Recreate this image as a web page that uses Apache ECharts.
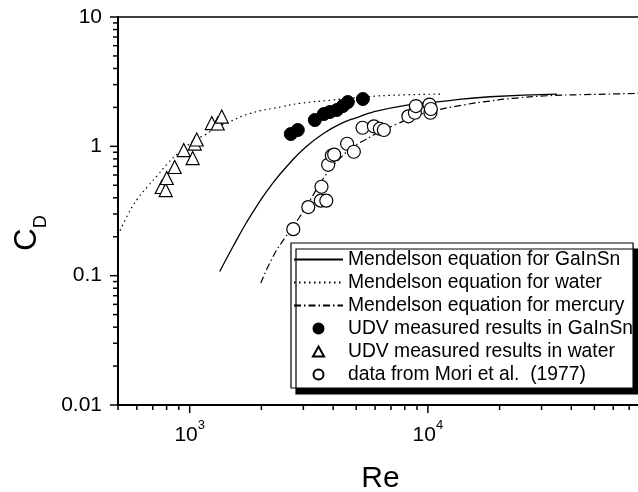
<!DOCTYPE html>
<html><head><meta charset="utf-8">
<script src="https://cdn.jsdelivr.net/npm/echarts@6/dist/echarts.min.js"></script>
<style>html,body{margin:0;padding:0;background:#fff}#c{width:638px;height:492px}</style>
</head><body><div id="c"></div>
<script>
// ---- data ----
const mendelsonGaInSnRe = [1337, 1516, 1736, 1912, 2233, 2632, 3072, 3622, 4268, 5031, 5873, 8164, 11230, 18220, 34830];
const mendelsonGaInSnCd = [0.1076, 0.1665, 0.2599, 0.3454, 0.5203, 0.7427, 0.9876, 1.245, 1.487, 1.670, 1.842, 2.086, 2.220, 2.418, 2.537];

const mendelsonWaterRe = [500, 549, 605, 666, 734, 808, 891, 1050, 1156, 1311, 1430, 1787, 2459, 2899, 3990, 5542, 7627, 11560];
const mendelsonWaterCd = [0.206, 0.294, 0.395, 0.489, 0.600, 0.736, 0.880, 1.119, 1.223, 1.418, 1.514, 1.793, 2.031, 2.150, 2.280, 2.418, 2.493, 2.537];

const mendelsonHgRe = [1988, 2232, 2507, 2899, 3193, 3764, 4268, 4841, 5436, 6285, 7337, 8650, 10195, 14030, 18220, 22760, 31620, 43520, 80000];
const mendelsonHgCd = [0.0877, 0.1393, 0.1954, 0.2856, 0.381, 0.6163, 0.8049, 0.9876, 1.119, 1.297, 1.474, 1.685, 1.852, 2.086, 2.240, 2.350, 2.462, 2.506, 2.57];

const udvGaInSnRe = [2657, 2843, 3352, 3656, 3873, 4146, 4395, 4612, 5333];
const udvGaInSnCd = [1.245, 1.337, 1.597, 1.777, 1.842, 1.909, 2.049, 2.200, 2.322];

const udvWaterRe = [763, 793, 801, 865, 944, 1029, 1050, 1070, 1238, 1311, 1363];
const udvWaterCd = [0.485, 0.459, 0.569, 0.692, 0.936, 0.812, 1.051, 1.129, 1.514, 1.501, 1.70];

const moriRe = [2722, 3147, 3551, 3746, 3575, 3812, 3951, 4041, 4580, 4888, 5317, 5932, 6285, 6533, 8281, 8819, 8905, 10146, 10245, 10290];
const moriCd = [0.229, 0.339, 0.380, 0.380, 0.487, 0.720, 0.849, 0.864, 1.047, 0.908, 1.392, 1.428, 1.368, 1.337, 1.706, 1.819, 2.049, 2.105, 1.819, 1.943];

const seriesNames = [
  'Mendelson equation for GaInSn',
  'Mendelson equation for water',
  'Mendelson equation for mercury',
  'UDV measured results in GaInSn',
  'UDV measured results in water',
  'data from Mori et al.  (1977)'
];

const xMajorTicks = [1000, 10000];
const xMinorTicks = [500, 600, 700, 800, 900, 2000, 3000, 4000, 5000, 6000, 7000, 8000, 9000, 20000, 30000, 40000, 50000, 60000, 70000, 80000];
const yMajorTicks = [0.01, 0.1, 1, 10];
const yMinorTicks = [0.02, 0.03, 0.04, 0.05, 0.06, 0.07, 0.08, 0.09, 0.2, 0.3, 0.4, 0.5, 0.6, 0.7, 0.8, 0.9, 2, 3, 4, 5, 6, 7, 8, 9];

// ---- chart ----
const FONT = '"Liberation Sans", Arial, Helvetica, sans-serif';
const zip = (a, b) => a.map((v, i) => [v, b[i]]);
const hiddenSymbol = { color: 'rgba(0,0,0,0)', borderColor: 'rgba(0,0,0,0)', borderWidth: 0 };

function tickSeries(values, axis, len) {
  return {
    type: 'custom', silent: true, z: 5, clip: false,
    data: values.map(v => axis === 'x' ? [v, 1] : [1000, v]),
    renderItem: (params, api) => {
      const cs = params.coordSys;
      const p = api.coord([api.value(0), api.value(1)]);
      let shape;
      if (axis === 'x') {
        const y0 = cs.y + cs.height;
        shape = { x1: p[0], y1: y0, x2: p[0], y2: y0 + len };
      } else {
        const x0 = cs.x;
        shape = { x1: x0, y1: p[1], x2: x0 - len, y2: p[1] };
      }
      return { type: 'line', shape, style: { stroke: '#000', lineWidth: 1.5 } };
    }
  };
}

const chart = echarts.init(document.getElementById('c'), null, { renderer: 'canvas' });
chart.setOption({
  animation: false,
  backgroundColor: '#fff',
  textStyle: { fontFamily: FONT },
  grid: { left: 118, top: 17, width: 525, height: 388, containLabel: false, outerBoundsMode: 'none',
          show: true, borderColor: '#000', borderWidth: 1.5, backgroundColor: 'transparent' },
  xAxis: {
    type: 'log', logBase: 10, min: 500, max: 80000,
    axisLine: { show: true, lineStyle: { color: '#000', width: 2 } },
    axisTick: { show: false },
    splitLine: { show: false },
    axisLabel: {
      margin: 14,
      formatter: v => {
        const l = Math.log10(v), e = Math.round(l);
        if (Math.abs(l - e) > 1e-6) return '';
        return '{b|10}{s|' + e + '}';
      },
      rich: {
        b: { fontSize: 21, lineHeight: 27, verticalAlign: 'bottom', color: '#000', fontFamily: FONT },
        s: { fontSize: 13, lineHeight: 13, verticalAlign: 'top', color: '#000', fontFamily: FONT }
      }
    },
    name: 'Re', nameLocation: 'middle', nameGap: 59,
    nameTextStyle: { fontSize: 30, color: '#000', fontFamily: FONT }
  },
  yAxis: {
    type: 'log', logBase: 10, min: 0.01, max: 10,
    axisLine: { show: true, lineStyle: { color: '#000', width: 2 } },
    axisTick: { show: false },
    splitLine: { show: false },
    axisLabel: {
      margin: 16, fontSize: 21, color: '#000', fontFamily: FONT,
      formatter: v => {
        const l = Math.log10(v), e = Math.round(l);
        if (Math.abs(l - e) > 1e-6) return '';
        return String(v >= 1 ? Math.round(v) : Number(v.toPrecision(1)));
      }
    },
    name: '{c|C}{d|D}', nameLocation: 'middle', nameGap: 66,
    nameTextStyle: {
      color: '#000', padding: [0, 44, 0, 0],
      rich: {
        c: { fontSize: 31, verticalAlign: 'top', color: '#000', fontFamily: FONT },
        d: { fontSize: 18, verticalAlign: 'top', padding: [20, 0, 0, 0], color: '#000', fontFamily: FONT }
      }
    }
  },
  legend: {
    orient: 'vertical', left: 291, top: 243, padding: [7, 0, 4, 2],
    itemWidth: 49, itemHeight: 10, itemGap: 4,
    backgroundColor: '#fff', borderColor: '#000', borderWidth: 1.2,
    shadowColor: '#000', shadowBlur: 0, shadowOffsetX: 5, shadowOffsetY: 6,
    selectedMode: false,
    textStyle: { fontSize: 19.3, color: '#000', fontFamily: FONT },
    data: [
      { name: seriesNames[0], itemStyle: hiddenSymbol },
      { name: seriesNames[1], itemStyle: hiddenSymbol },
      { name: seriesNames[2], itemStyle: hiddenSymbol },
      { name: seriesNames[3] },
      { name: seriesNames[4], icon: 'path://M5,0L10,9L0,9Z' },
      { name: seriesNames[5] }
    ]
  },
  series: [
    { name: seriesNames[0], type: 'line', smooth: 0.5, symbol: 'none', z: 2,
      lineStyle: { color: '#000', width: 1.3, type: 'solid' }, itemStyle: { color: '#000' },
      data: zip(mendelsonGaInSnRe, mendelsonGaInSnCd) },
    { name: seriesNames[1], type: 'line', smooth: 0.5, symbol: 'none', z: 2,
      lineStyle: { color: '#000', width: 1.2, type: [1.5, 3.5] }, itemStyle: { color: '#000' },
      data: zip(mendelsonWaterRe, mendelsonWaterCd) },
    { name: seriesNames[2], type: 'line', smooth: 0.5, symbol: 'none', z: 2,
      lineStyle: { color: '#000', width: 1.2, type: [7, 3, 1.5, 3] }, itemStyle: { color: '#000' },
      data: zip(mendelsonHgRe, mendelsonHgCd) },
    { name: seriesNames[3], type: 'scatter', symbol: 'circle', symbolSize: 13, z: 3,
      itemStyle: { color: '#000', borderColor: '#000', borderWidth: 1, opacity: 1 },
      data: zip(udvGaInSnRe, udvGaInSnCd) },
    { name: seriesNames[4], type: 'scatter', symbol: 'triangle', symbolSize: 13, symbolKeepAspect: true, z: 3,
      itemStyle: { color: '#fff', borderColor: '#000', borderWidth: 1.2, opacity: 1 },
      data: zip(udvWaterRe, udvWaterCd) },
    { name: seriesNames[5], type: 'scatter', symbol: 'circle', symbolSize: 13, z: 3,
      itemStyle: { color: '#fff', borderColor: '#000', borderWidth: 1.2, opacity: 1 },
      data: zip(moriRe, moriCd) },
    tickSeries(xMajorTicks, 'x', 8),
    tickSeries(xMinorTicks, 'x', 5),
    tickSeries(yMajorTicks, 'y', 8),
    tickSeries(yMinorTicks, 'y', 5)
  ]
});
</script>
</body></html>
